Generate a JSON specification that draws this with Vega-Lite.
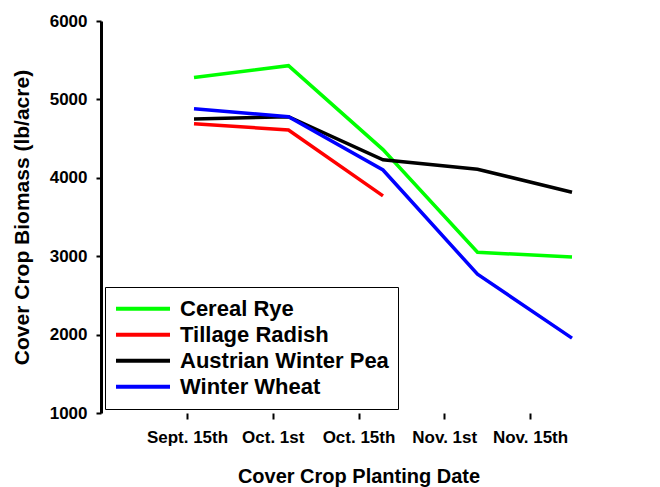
{
  "$schema": "https://vega.github.io/schema/vega-lite/v6.json",
  "width": 559,
  "height": 392,
  "autosize": {"type": "none"},
  "padding": {"left": 101, "top": 21, "right": 0, "bottom": 74},
  "background": "white",
  "config": {
    "view": {"stroke": null},
    "font": "Liberation Sans",
    "axis": {
      "labelFont": "Liberation Sans",
      "titleFont": "Liberation Sans",
      "labelFontWeight": "bold",
      "titleFontWeight": "bold",
      "labelColor": "black",
      "titleColor": "black",
      "domainColor": "black",
      "tickColor": "black",
      "grid": false
    }
  },
  "datasets": {
    "biomass": [
      {"crop": "Cereal Rye", "date": "Sept. 15th", "biomass": 5280},
      {"crop": "Cereal Rye", "date": "Oct. 1st", "biomass": 5430},
      {"crop": "Cereal Rye", "date": "Oct. 15th", "biomass": 4360},
      {"crop": "Cereal Rye", "date": "Nov. 1st", "biomass": 3050},
      {"crop": "Cereal Rye", "date": "Nov. 15th", "biomass": 2990},
      {"crop": "Tillage Radish", "date": "Sept. 15th", "biomass": 4690},
      {"crop": "Tillage Radish", "date": "Oct. 1st", "biomass": 4610},
      {"crop": "Tillage Radish", "date": "Oct. 15th", "biomass": 3770},
      {"crop": "Austrian Winter Pea", "date": "Sept. 15th", "biomass": 4750},
      {"crop": "Austrian Winter Pea", "date": "Oct. 1st", "biomass": 4780},
      {"crop": "Austrian Winter Pea", "date": "Oct. 15th", "biomass": 4230},
      {"crop": "Austrian Winter Pea", "date": "Nov. 1st", "biomass": 4110},
      {"crop": "Austrian Winter Pea", "date": "Nov. 15th", "biomass": 3815},
      {"crop": "Winter Wheat", "date": "Sept. 15th", "biomass": 4880},
      {"crop": "Winter Wheat", "date": "Oct. 1st", "biomass": 4780},
      {"crop": "Winter Wheat", "date": "Oct. 15th", "biomass": 4100},
      {"crop": "Winter Wheat", "date": "Nov. 1st", "biomass": 2770},
      {"crop": "Winter Wheat", "date": "Nov. 15th", "biomass": 1955}
    ]
  },
  "layer": [
    {
      "data": {"name": "biomass"},
      "mark": {"type": "line", "strokeWidth": 3.5, "strokeCap": "butt", "strokeJoin": "miter"},
      "encoding": {
        "x": {
          "field": "date",
          "type": "ordinal",
          "sort": ["Sept. 15th", "Oct. 1st", "Oct. 15th", "Nov. 1st", "Nov. 15th"],
          "scale": {"type": "point", "range": [93, 471], "padding": 0},
          "axis": null
        },
        "y": {
          "field": "biomass",
          "type": "quantitative",
          "scale": {"domain": [1000, 6000], "nice": false, "zero": false},
          "axis": {
            "values": [1000, 2000, 3000, 4000, 5000, 6000],
            "format": "d",
            "title": "Cover Crop Biomass (lb/acre)",
            "domainWidth": 3,
            "tickWidth": 2,
            "tickSize": 5,
            "labelFontSize": 17,
            "titleFontSize": 21,
            "labelPadding": 9,
            "titlePadding": 17
          }
        },
        "color": {
          "field": "crop",
          "type": "nominal",
          "sort": ["Cereal Rye", "Tillage Radish", "Austrian Winter Pea", "Winter Wheat"],
          "scale": {
            "domain": ["Cereal Rye", "Tillage Radish", "Austrian Winter Pea", "Winter Wheat"],
            "range": ["#00ff00", "#ff0000", "#000000", "#0000ff"]
          },
          "legend": {
            "orient": "none",
            "legendX": 4,
            "legendY": 266,
            "title": null,
            "symbolType": "stroke",
            "symbolSize": 2916,
            "symbolStrokeWidth": 4,
            "labelFont": "Liberation Sans",
            "labelFontSize": 22,
            "labelFontWeight": "bold",
            "labelColor": "black",
            "labelOffset": 8,
            "labelLimit": 400,
            "padding": 9,
            "strokeColor": "black",
            "fillColor": "white",
            "rowPadding": 0,
            "clipHeight": 25.5
          }
        }
      }
    },
    {
      "data": {"name": "biomass"},
      "mark": {"type": "point", "opacity": 0},
      "encoding": {
        "x": {
          "field": "date",
          "type": "ordinal",
          "sort": ["Sept. 15th", "Oct. 1st", "Oct. 15th", "Nov. 1st", "Nov. 15th"],
          "scale": {"type": "point", "range": [86, 429], "padding": 0},
          "axis": {
            "orient": "bottom",
            "title": "Cover Crop Planting Date",
            "domain": false,
            "tickWidth": 2,
            "tickSize": 6,
            "labelAngle": 0,
            "labelFontSize": 17,
            "titleFontSize": 20,
            "labelPadding": 10,
            "titlePadding": 21
          }
        }
      }
    },
    {
      "mark": {"type": "rule", "strokeWidth": 3, "color": "black"},
      "encoding": {"y": {"datum": 6000}}
    },
    {
      "mark": {"type": "rule", "strokeWidth": 3, "color": "black"},
      "encoding": {"y": {"datum": 1000}}
    }
  ],
  "resolve": {"scale": {"x": "independent"}, "axis": {"x": "independent"}}
}
